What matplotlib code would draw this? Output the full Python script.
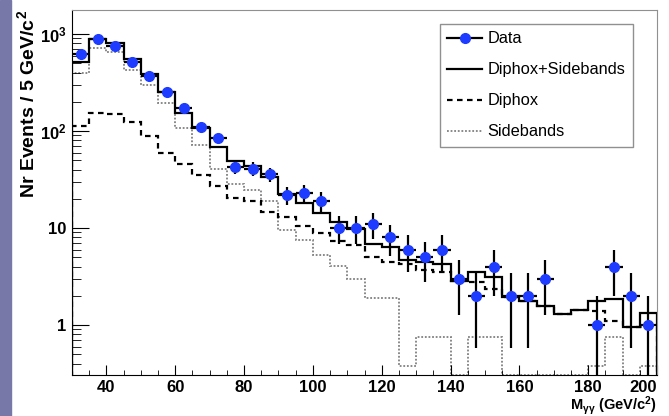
import matplotlib.pyplot as plt
import numpy as np
from matplotlib.lines import Line2D
from matplotlib.patches import Rectangle

plt.rcParams['font.family'] = ['Liberation Sans', 'DejaVu Sans']
plt.rcParams['mathtext.default'] = 'regular'

# Bins of 5 GeV from 30 to 200
edges = np.arange(30, 201, 5)
centers = edges[:-1] + 2.5

# Observed events per bin
data = [630, 890, 750, 520, 370, 250, 172, 110, 85, 43,
        41, 36, 22, 23, 19, 10, 10, 11, 8, 6,
        5, 6, 3, 2, 4, 2, 2, 3, 0, 0,
        1, 4, 2, 1]

# Diphox prediction
diphox = [112, 155, 150, 125, 88, 60, 46, 35, 27, 20.5,
          19, 14.6, 12.9, 10.5, 8.9, 7.3, 6.7, 5.0, 4.5, 4.3,
          3.7, 3.55, 2.82, 2.75, 2.35, 1.94, 1.77, 1.58, 1.3, 1.43,
          1.4, 1.1, 0.95, 0.95]

# Sideband (background) estimate
sidebands = [400, 725, 655, 427, 298, 193, 107, 72, 41, 28.5,
             24.6, 19, 9.5, 7.5, 5.3, 4.1, 3.0, 1.9, 1.9, 0.38,
             0.75, 0.75, 0, 0.75, 0.75, 0, 0, 0, 0, 0,
             0.38, 0.75, 0, 0.38]

ymin, ymax = 0.305, 1770

data = np.array(data, dtype=float)
diphox = np.array(diphox)
sidebands = np.array(sidebands)
total = diphox + sidebands

fig = plt.figure(figsize=(6.69, 4.16), dpi=100)
fig.patches.append(Rectangle((0, 0), 11 / 669, 1, transform=fig.transFigure,
                             color='#7878a8', zorder=-1))
ax = fig.add_axes([72 / 669, 41 / 416, 585 / 669, 365 / 416])
ax.set_yscale('log')

# Histograms (empty bins drawn on the frame floor, as ROOT does)
ax.stairs(np.clip(sidebands, ymin, None), edges, color='#808080',
          linestyle=(0, (1, 1)), linewidth=1.3)
ax.stairs(np.clip(diphox, ymin, None), edges, color='black',
          linestyle=(0, (2.5, 2)), linewidth=1.6)
ax.stairs(total, edges, color='black', linewidth=1.6)

# Data with sqrt(N) errors
mask = data > 0
err = np.sqrt(data[mask])
lower = np.minimum(err, data[mask] - ymin * 1.0001)
ax.errorbar(centers[mask], data[mask], yerr=[lower, err], xerr=2.5,
            fmt='o', color='black', ecolor='black', elinewidth=1.6,
            capsize=0, mfc='#1e3cff', mec='#1e3cff', markersize=7, zorder=5)

ax.set_xlim(30, 200)
ax.set_ylim(ymin, ymax)

ax.set_yticks([1, 10, 100, 1000])
ax.set_yticklabels(['1', '10', r'10$^{2}$', r'10$^{3}$'])
ax.set_xticks(np.arange(40, 201, 20))
ax.set_xticks(np.arange(30, 201, 5), minor=True)
ax.tick_params(axis='both', which='both', direction='in', labelsize=12)
ax.tick_params(axis='y', which='major', length=12, pad=4)
ax.tick_params(axis='y', which='minor', length=6.5)
ax.tick_params(axis='x', which='major', length=7, pad=3.5)
ax.tick_params(axis='x', which='minor', length=3.6)
for lab in ax.get_xticklabels() + ax.get_yticklabels():
    lab.set_fontweight('bold')
ax.get_xticklabels()[-1].set_horizontalalignment('right')

for side in ['top', 'right']:
    ax.spines[side].set_color('#909090')

ax.set_ylabel(r'Nr Events / 5 GeV/c$^{2}$', fontsize=14, fontweight='bold',
              loc='top', labelpad=1)
ax.set_xlabel(r'M$_{\gamma\gamma}$ (GeV/c$^{2}$)', fontsize=10.5,
              fontweight='bold', loc='right', labelpad=-0.5)

handles = [
    Line2D([], [], color='black', linewidth=1.6, marker='o', markersize=7,
           mfc='#1e3cff', mec='#1e3cff'),
    Line2D([], [], color='black', linewidth=1.6),
    Line2D([], [], color='black', linewidth=1.6, linestyle=(0, (2.5, 2))),
    Line2D([], [], color='#808080', linewidth=1.3, linestyle=(0, (1, 1))),
]
labels = ['Data', 'Diphox+Sidebands', 'Diphox', 'Sidebands']
leg = ax.legend(handles, labels, loc='upper left', bbox_to_anchor=(0.629, 0.962),
                fontsize=11.8, frameon=True, fancybox=False, framealpha=1,
                edgecolor='#909090', handlelength=2.1, handletextpad=0.35,
                labelspacing=0.98, borderpad=0.45, borderaxespad=0)
leg.get_frame().set_linewidth(1.0)

plt.savefig('out.png', dpi=100)
